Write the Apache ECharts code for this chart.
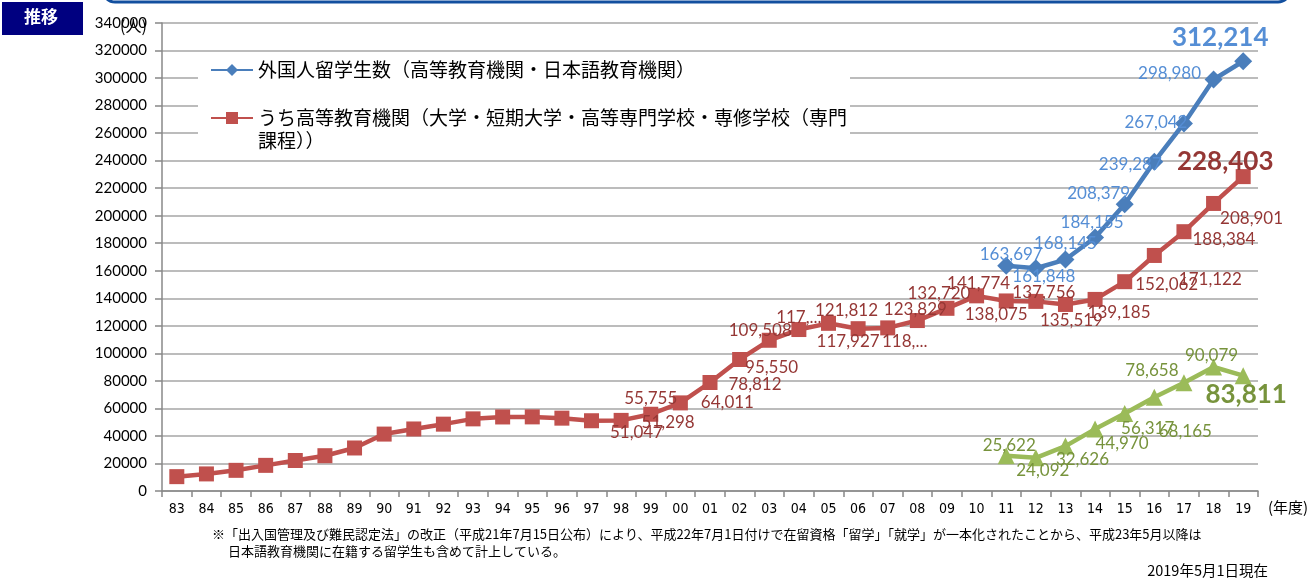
<!DOCTYPE html>
<html>
<head>
<meta charset="utf-8">
<script src="https://cdn.jsdelivr.net/npm/echarts@6/dist/echarts.min.js"></script>
<style>
html,body{margin:0;padding:0;background:#fff;}
#chart{width:1316px;height:579px;}
</style>
</head>
<body>
<div id="chart"></div>
<script>
// ---- data ----
const years = ['83','84','85','86','87','88','89','90','91','92','93','94','95','96','97','98','99','00','01','02','03','04','05','06','07','08','09','10','11','12','13','14','15','16','17','18','19'];
const yTicks = [0,20000,40000,60000,80000,100000,120000,140000,160000,180000,200000,220000,240000,260000,280000,300000,320000,340000];
const foreignStudents = [null,null,null,null,null,null,null,null,null,null,null,null,null,null,null,null,null,null,null,null,null,null,null,null,null,null,null,null,
  163697,161848,168145,184155,208379,239287,267042,298980,312214];
const higherEducation = [10428,12410,15009,18631,22154,25643,31251,41347,45066,48561,52405,53787,53847,52921,51047,51298,55755,64011,78812,95550,109508,117302,121812,117927,118498,123829,132720,141774,
  138075,137756,135519,139185,152062,171122,188384,208901,228403];
const japaneseLanguage = [null,null,null,null,null,null,null,null,null,null,null,null,null,null,null,null,null,null,null,null,null,null,null,null,null,null,null,null,
  25622,24092,32626,44970,56317,68165,78658,90079,83811];
const seriesNames = ['外国人留学生数（高等教育機関・日本語教育機関）','うち高等教育機関（大学・短期大学・高等専門学校・専修学校（専門課程））','日本語教育機関'];

// ---- label layout (offsets of label centre from point, px) ----
const redLabelPos = {'97':[45,12],'98':[47,2],'99':[0,-16],'00':[47,0],'01':[45,2],'02':[32,8],'03':[-9,-10],'04':[0,-12],'05':[18,-13],'06':[-10,13],'07':[17,14],'08':[-2,-11],'09':[-8,-15],'10':[2,-12],
  '11':[-10,14],'12':[8,-9],'13':[6,16],'14':[24,13],'15':[42,3],'16':[56,24],'17':[40,8],'18':[38,15],'19':[-18,-15]};
const blueLabelPos = {'11':[5,-11],'12':[8,8],'13':[0,-16],'14':[-3,-15],'15':[-26,-11],'16':[-24,3],'17':[-28,-1],'18':[-44,-6],'19':[-23,-24]};
const greenLabelPos = {'11':[3,-10],'12':[7,13],'13':[17,13],'14':[27,14],'15':[23,15],'16':[31,34],'17':[-32,-12],'18':[-2,-11],'19':[3,19]};
const truncated = {'04':true,'07':true};

const fmt = v => v.toLocaleString('en-US');

function buildData(values, posMap, color) {
  return values.map((v, i) => {
    if (v === null) return '-';
    const yr = years[i];
    const p = posMap[yr];
    const last = i === values.length - 1;
    const item = { value: v };
    if (p) {
      let txt = fmt(v);
      if (truncated[yr] && posMap === redLabelPos) txt = txt.slice(0, 4) + '...';
      item.label = {
        show: true, position: 'inside', offset: p, formatter: txt,
        color: color, fontFamily: 'Lato', align: 'center', verticalAlign: 'middle',
        fontSize: last ? 26 : 17, fontWeight: last ? 'bold' : 'normal'
      };
    } else {
      item.label = { show: false };
    }
    return item;
  });
}

const chart = echarts.init(document.getElementById('chart'), null, { renderer: 'canvas' });
const gridColor = '#A6A6A6';

const option = {
  animation: false,
  backgroundColor: '#fff',
  grid: { left: 162, right: 58, top: 23, bottom: 88, containLabel: false },
  xAxis: {
    type: 'category', data: years, boundaryGap: true,
    axisLine: { show: true, lineStyle: { color: '#888', width: 1.5 } },
    axisTick: { show: true, length: 6, alignWithLabel: false, lineStyle: { color: '#888', width: 1.5 } },
    axisLabel: { color: '#000', fontSize: 14, margin: 11, interval: 0, fontFamily: "'Liberation Sans Narrow','DejaVu Sans Condensed',sans-serif" },
    splitLine: { show: false }
  },
  yAxis: {
    type: 'value', min: yTicks[0], max: yTicks[yTicks.length - 1], interval: yTicks[1] - yTicks[0],
    axisLine: { show: true, lineStyle: { color: '#888', width: 1.5 } },
    axisTick: { show: true, length: 7, lineStyle: { color: '#888', width: 1.5 } },
    axisLabel: { color: '#000', fontSize: 15, margin: 15, fontFamily: 'Lato', formatter: v => String(v) },
    splitLine: { show: true, lineStyle: { color: gridColor, width: 1.5 } }
  },
  legend: {
    data: [seriesNames[0], seriesNames[1]],
    orient: 'vertical', left: 210, top: 58, padding: 0,
    itemWidth: 42, itemHeight: 15, itemGap: 24,
    textStyle: { fontFamily: "'Noto Sans CJK JP'", fontSize: 19, color: '#000', lineHeight: 24 },
    formatter: n => n === seriesNames[1] ? 'うち高等教育機関（大学・短期大学・高等専門学校・専修学校（専門' : n
  },
  graphic: [
    { type: 'rect', z: 1, shape: { x: 198, y: 56, width: 652, height: 99 }, style: { fill: '#fff' } },
    { type: 'text', z: 5, left: 258, top: 131, style: { text: '課程））', font: "19px 'Noto Sans CJK JP'", fill: '#000' } },
    { type: 'rect', z: 5, shape: { x: 103, y: -40, width: 1187, height: 42, r: 12 }, style: { fill: 'none', stroke: '#124F9F', lineWidth: 3 } },
    { type: 'rect', z: 5, shape: { x: 2, y: 2, width: 81, height: 33 }, style: { fill: '#000080' } },
    { type: 'text', z: 6, left: 24, top: 8, style: { text: '推移', font: "bold 17px 'Noto Sans CJK JP'", fill: '#fff' } },
    { type: 'text', z: 5, left: 120, top: 18, style: { text: '(人)', font: "16px 'Noto Sans CJK JP'", fill: '#000' } },
    { type: 'text', z: 5, left: 1268, top: 500, style: { text: '(年度)', font: "15px 'Noto Sans CJK JP'", fill: '#000' } },
    { type: 'text', z: 5, left: 212, top: 528, style: { text: '※「出入国管理及び難民認定法」の改正（平成21年7月15日公布）により、平成22年7月1日付けで在留資格「留学」「就学」が一本化されたことから、平成23年5月以降は', font: "13px 'Noto Sans CJK JP'", fill: '#000' } },
    { type: 'text', z: 5, left: 228, top: 545, style: { text: '日本語教育機関に在籍する留学生も含めて計上している。', font: "13px 'Noto Sans CJK JP'", fill: '#000' } },
    { type: 'text', z: 5, right: 48, top: 563, style: { text: '2019年5月1日現在', font: "14.5px 'Noto Sans CJK JP'", fill: '#000' } }
  ],
  series: [
    {
      name: seriesNames[1], type: 'line', z: 2,
      data: buildData(higherEducation, redLabelPos, '#953735'),
      symbol: 'rect', symbolSize: 15, showSymbol: true,
      lineStyle: { color: '#C0504D', width: 4.5 }, itemStyle: { color: '#C0504D' },
      emphasis: { disabled: true }
    },
    {
      name: seriesNames[0], type: 'line', z: 3,
      data: buildData(foreignStudents, blueLabelPos, '#558ED5'),
      symbol: 'diamond', symbolSize: 18, showSymbol: true,
      lineStyle: { color: '#4A7EBB', width: 4.5 }, itemStyle: { color: '#4A7EBB' },
      emphasis: { disabled: true }
    },
    {
      name: seriesNames[2], type: 'line', z: 3,
      data: buildData(japaneseLanguage, greenLabelPos, '#77933C'),
      symbol: 'triangle', symbolSize: 17, showSymbol: true,
      lineStyle: { color: '#9BBB59', width: 4.5 }, itemStyle: { color: '#9BBB59' },
      emphasis: { disabled: true }
    }
  ]
};
chart.setOption(option);
</script>
</body>
</html>
